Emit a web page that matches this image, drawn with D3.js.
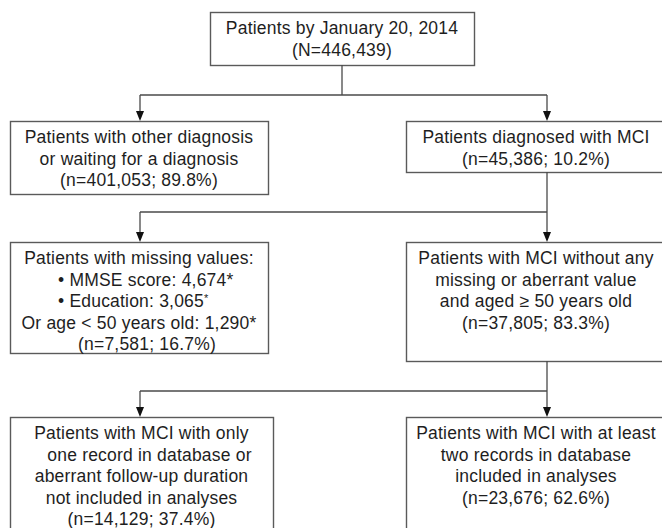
<!DOCTYPE html>
<html>
<head>
<meta charset="utf-8">
<script src="https://cdn.jsdelivr.net/npm/d3@7"></script>
<style>
  body { margin: 0; background: #fff; }
  svg { display: block; }
  text { font-family: "Liberation Sans", Arial, sans-serif; font-size: 17.5px; letter-spacing: 0.2px; fill: #1e1e1e; }
</style>
</head>
<body>
<svg width="662" height="528"></svg>
<script>
// flow stages: counts and percentages
const stageNames = ["all", "otherDx", "mci", "missing", "clean", "oneRecord", "analysed"];
const stageN = [446439, 401053, 45386, 7581, 37805, 14129, 23676];
const stagePct = [null, 89.8, 10.2, 16.7, 83.3, 37.4, 62.6];

// box texts (without the count line)
const allLines = ["Patients by January 20, 2014"];
const otherDxLines = ["Patients with other diagnosis", "or waiting for a diagnosis"];
const mciLines = ["Patients diagnosed with MCI"];
const missingLines = ["Patients with missing values:", "\u2022 MMSE score: 4,674*", "\u2022 Education: 3,065^", "Or age < 50 years old: 1,290*"];
const cleanLines = ["Patients with MCI without any", "missing or aberrant value", "and aged \u2265 50 years old"];
const oneRecordLines = ["Patients with MCI with only", "one record in database or", "aberrant follow-up duration", "not included in analyses"];
const analysedLines = ["Patients with MCI with at least", "two records in database", "included in analyses"];

const fmt = d3.format(",");
function countLine(i) {
    return stagePct[i] == null ? "(N=" + fmt(stageN[i]) + ")"
        : "(n=" + fmt(stageN[i]) + "; " + stagePct[i].toFixed(1) + "%)";
}

var svg = d3.select("svg");
var lineH = 21.5;
var stroke = "#4a4a4a";

// columns and rows of the layout
var colX = d3.scaleOrdinal().domain(["mid", "left", "right"]).range([[210, 474], [10, 268], [406, 670]]);
var rowY = d3.scaleOrdinal().domain([0, 1, 2, 3]).range([12, 121, 242, 417]);
var arrowX = d3.scaleOrdinal().domain(["left", "right"]).range([140, 547]);

var boxes = [
    {id: 0, lines: allLines, col: "mid", row: 0, h: 53},
    {id: 1, lines: otherDxLines, col: "left", row: 1, h: 73},
    {id: 2, lines: mciLines, col: "right", row: 1, h: 51},
    {id: 3, lines: missingLines, col: "left", row: 2, h: 111},
    {id: 4, lines: cleanLines, col: "right", row: 2, h: 119},
    {id: 5, lines: oneRecordLines, col: "left", row: 3, h: 130, wide: 5},
    {id: 6, lines: analysedLines, col: "right", row: 3, h: 130}
];

var gBox = svg.append("g");
boxes.forEach(function(b) {
    var x0 = colX(b.col)[0], x1 = colX(b.col)[1] + (b.wide || 0);
    var y0 = rowY(b.row);
    gBox.append("rect")
        .attr("x", x0 + 0.5).attr("y", y0 + 0.5)
        .attr("width", x1 - x0).attr("height", b.h)
        .attr("fill", "none").attr("stroke", "#5a5a5a").attr("stroke-width", 1.4);
    var cx = (x0 + Math.min(x1, 666)) / 2;
    var all = b.lines.concat([countLine(b.id)]);
    all.forEach(function(s, i) {
        var t = gBox.append("text")
            .attr("y", y0 + 16 + i * lineH)
            .attr("dy", "0.35em");
        if (s.startsWith("\u2022")) {
            t.attr("x", 58).attr("text-anchor", "start");
        } else {
            // a few lines sit slightly right of centre in the original
            var nudge = (b.id === 3 && i === 4) || (b.id === 5 && i === 1) ? 8 : 0;
            t.attr("x", cx + nudge).attr("text-anchor", "middle");
        }
        if (s.endsWith("^")) {
            t.text(s.slice(0, -1));
            t.append("tspan").attr("dy", "-0.45em").attr("font-size", "11px").text("*");
        } else {
            t.text(s);
        }
    });
});

// connectors: split from a parent point into two arrows
var splits = [
    {fromX: 342, fromY: 65, barY: 95, toRow: 1},
    {fromX: 547, fromY: 172, barY: 212, toRow: 2},
    {fromX: 547, fromY: 361, barY: 391, toRow: 3}
];
var gLink = svg.append("g").attr("stroke", stroke).attr("stroke-width", 1.3).attr("fill", "none");
var gHead = svg.append("g").attr("fill", "#111");
splits.forEach(function(s) {
    var yEnd = rowY(s.toRow);
    gLink.append("path").attr("d", d3.line()([[s.fromX, s.fromY], [s.fromX, s.barY]]));
    gLink.append("path").attr("d", d3.line()([[arrowX("left"), s.barY], [arrowX("right"), s.barY]]));
    ["left", "right"].forEach(function(c) {
        var ax = arrowX(c);
        gLink.append("path").attr("d", d3.line()([[ax, s.barY], [ax, yEnd - 8]]));
        gHead.append("path").attr("d", d3.line()([[ax - 4, yEnd - 10], [ax + 4, yEnd - 10], [ax, yEnd]]) + "Z");
    });
});
</script>
</body>
</html>
